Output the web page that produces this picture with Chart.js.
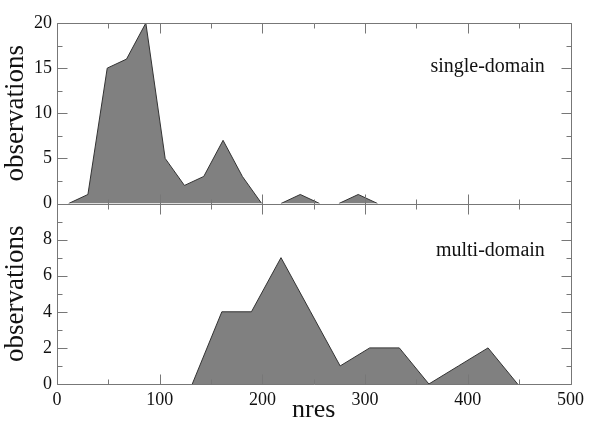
<!DOCTYPE html>
<html>
<head>
<meta charset="utf-8">
<script src="https://cdn.jsdelivr.net/npm/chart.js@4.4.1/dist/chart.umd.min.js"></script>
<style>
  html, body { margin: 0; padding: 0; background: #fff; }
  #wrap { width: 589px; height: 421px; }
</style>
</head>
<body>
<div id="wrap"><canvas id="myCan" width="589" height="421"></canvas></div>
<script>
// residue-count bins (nres) and number of observations per panel
var singleX = [11.3, 30.1, 48.9, 67.7, 86.5, 105.3, 124.1, 142.9, 161.7, 180.5, 199.3, 218.1, 236.9, 255.7, 274.5, 293.3, 312.1];
var singleY = [0, 1, 15, 16, 20, 5, 2, 3, 7, 3, 0, 0, 1, 0, 0, 1, 0];
var multiX = [131.7, 160.5, 189.3, 218.1, 246.9, 275.7, 304.5, 333.3, 362.1, 390.9, 419.7, 448.5];
var multiY = [0, 4, 4, 7, 4, 1, 2, 2, 0, 1, 2, 0];

var xTicks = [0, 100, 200, 300, 400, 500];
var singleTicks = [0, 5, 10, 15, 20];
var multiTicks = [0, 2, 4, 6, 8];

var serif = "'Liberation Serif', 'Times New Roman', serif";
var frameColor = '#777';

function toPoints(xs, ys) {
  return xs.map(function (x, i) { return { x: x, y: ys[i] }; });
}

function hideFlat(ctx) {
  return (ctx.p0.parsed.y === 0 && ctx.p1.parsed.y === 0) ? 'rgba(0,0,0,0)' : '#333';
}

// frame, inward ticks and panel labels, placed with the chart's own scales
var framePlugin = {
  id: 'frame',
  afterDraw: function (chart) {
    var c = chart.ctx;
    var xs = chart.scales.x;
    var panels = [
      { s: chart.scales.yTop, major: 5, minor: 2.5, label: 'single-domain', lx: 475, ly: 15.1 },
      { s: chart.scales.yBot, major: 2, minor: 1, label: 'multi-domain', lx: 475, ly: 7.4 }
    ];
    var l = Math.round(xs.left) + 0.5, r = Math.round(xs.right) + 0.5;
    c.save();
    c.strokeStyle = frameColor;
    c.lineWidth = 1;
    c.beginPath();
    panels.forEach(function (p) {
      var top = Math.round(p.s.getPixelForValue(p.s.max)) + 0.5;
      var bot = Math.round(p.s.getPixelForValue(0)) + 0.5;
      c.moveTo(l, top); c.lineTo(r, top);
      c.moveTo(l, bot); c.lineTo(r, bot);
      c.moveTo(l, top); c.lineTo(l, bot);
      c.moveTo(r, top); c.lineTo(r, bot);
      for (var v = 0; v <= 500; v += 50) {
        var px = Math.round(xs.getPixelForValue(v)) + 0.5;
        var len = (v % 100 === 0) ? 10 : 5;
        c.moveTo(px, top); c.lineTo(px, top + len);
        c.moveTo(px, bot); c.lineTo(px, bot - len);
      }
      for (var y = p.s.min; y <= p.s.max + 1e-9; y += p.minor) {
        var py = Math.round(p.s.getPixelForValue(y)) + 0.5;
        var ylen = (Math.abs(y / p.major - Math.round(y / p.major)) < 1e-6) ? 10 : 5;
        c.moveTo(l, py); c.lineTo(l + ylen, py);
        c.moveTo(r, py); c.lineTo(r - ylen, py);
      }
    });
    c.stroke();
    c.fillStyle = '#111';
    c.font = '20px ' + serif;
    c.textAlign = 'right';
    c.textBaseline = 'middle';
    panels.forEach(function (p) {
      c.fillText(p.label, xs.getPixelForValue(p.lx), p.s.getPixelForValue(p.ly));
    });
    c.restore();
  }
};

function yAxis(max, step, ticks, weight) {
  return {
    type: 'linear',
    position: 'left',
    stack: 'panels',
    stackWeight: weight,
    min: 0,
    max: max,
    grid: { display: false, drawTicks: false },
    border: { display: false },
    afterFit: function (s) { s.width = 57; },
    afterBuildTicks: function (s) { s.ticks = ticks.map(function (v) { return { value: v }; }); },
    ticks: {
      stepSize: step,
      padding: 5,
      color: '#111',
      font: { family: serif, size: 18 }
    },
    title: {
      display: true,
      text: 'observations',
      color: '#111',
      padding: { top: 0, bottom: 2 },
      font: { family: serif, size: 27 }
    }
  };
}

var iniChartConfig = {
  type: 'line',
  data: {
    datasets: [
      {
        label: 'single-domain',
        data: toPoints(singleX, singleY),
        yAxisID: 'yTop',
        fill: 'origin',
        backgroundColor: '#808080',
        borderColor: '#333',
        borderWidth: 1,
        pointRadius: 0,
        tension: 0,
        segment: { borderColor: hideFlat }
      },
      {
        label: 'multi-domain',
        data: toPoints(multiX, multiY),
        yAxisID: 'yBot',
        fill: 'origin',
        backgroundColor: '#808080',
        borderColor: '#333',
        borderWidth: 1,
        pointRadius: 0,
        tension: 0,
        segment: { borderColor: hideFlat }
      }
    ]
  },
  options: {
    responsive: false,
    animation: false,
    devicePixelRatio: 1,
    layout: { padding: { top: 23, right: 16, left: 0, bottom: 0 } },
    plugins: {
      legend: { display: false },
      tooltip: { enabled: false }
    },
    scales: {
      x: {
        type: 'linear',
        min: 0,
        max: 500,
        grid: { display: false, drawTicks: false },
        border: { display: false },
        afterFit: function (s) { s.height = 37; },
        afterBuildTicks: function (s) { s.ticks = xTicks.map(function (v) { return { value: v }; }); },
        ticks: {
          stepSize: 100,
          padding: 5,
          maxRotation: 0,
          color: '#111',
          font: { family: serif, size: 18 }
        },
        title: {
          display: true,
          text: 'nres',
          color: '#111',
          padding: { top: 0, bottom: 0 },
          font: { family: serif, size: 26, lineHeight: 0.85 }
        }
      },
      // listed bottom first: Chart.js stacks left axes upward in this order
      yBot: yAxis(10, 2, multiTicks, 1),
      yTop: yAxis(20, 5, singleTicks, 1)
    }
  },
  plugins: [framePlugin]
};

var ctxx = document.getElementById('myCan').getContext('2d');
var xChart = new Chart(ctxx, iniChartConfig);
</script>
</body>
</html>
